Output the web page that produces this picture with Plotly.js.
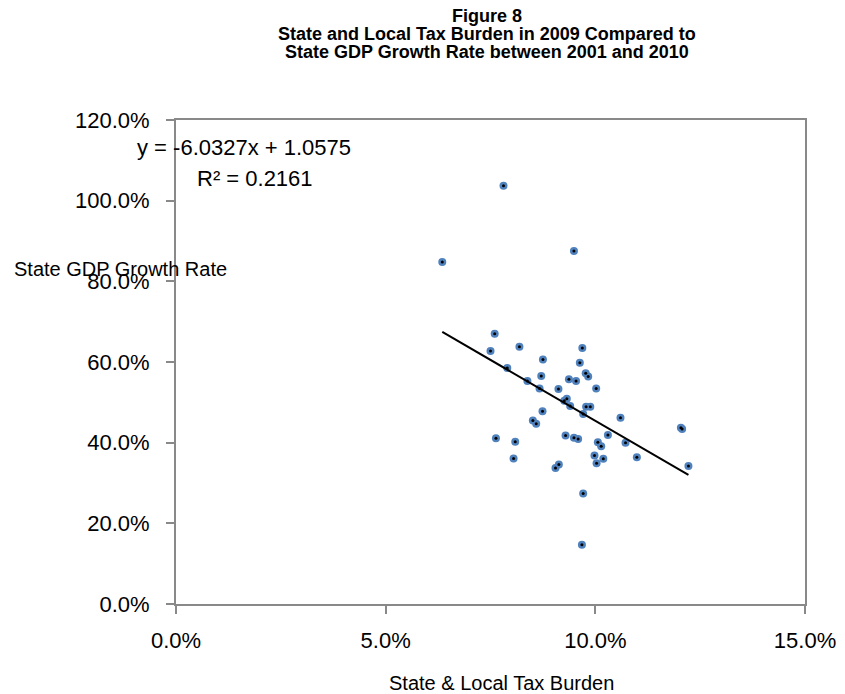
<!DOCTYPE html>
<html>
<head>
<meta charset="utf-8">
<script src="https://cdn.plot.ly/plotly-3.0.1.min.js"></script>
<style>html,body{margin:0;padding:0;background:#fff;}#chart{width:845px;height:694px;}</style>
</head>
<body>
<div id="chart"></div>
<script>
// State & local tax burden 2009 (fraction) vs state GDP growth 2001-2010 (fraction)
var taxBurden = [0.0635,0.0781,0.0949,0.0760,0.0750,0.0819,0.0875,0.0969,0.0963,0.0790,
                 0.0838,0.0871,0.0867,0.0937,0.0954,0.0912,0.0932,0.0926,0.0940,0.0874,
                 0.0851,0.0859,0.0763,0.0809,0.0929,0.0949,0.0959,0.0977,0.0983,0.1002,
                 0.0978,0.0988,0.0971,0.1060,0.1204,0.1207,0.1030,0.1006,0.1014,0.1072,
                 0.0998,0.1003,0.1019,0.1099,0.1222,0.0971,0.0968,0.0805,0.0905,0.0913];
var gdpGrowth = [0.848,1.037,0.875,0.670,0.627,0.638,0.606,0.635,0.598,0.585,
                 0.553,0.565,0.534,0.557,0.553,0.533,0.509,0.504,0.491,0.478,
                 0.455,0.447,0.411,0.402,0.418,0.412,0.409,0.572,0.564,0.534,
                 0.489,0.489,0.471,0.462,0.437,0.434,0.419,0.401,0.391,0.400,
                 0.368,0.349,0.360,0.364,0.342,0.274,0.147,0.361,0.337,0.346];
var trendSlope = -6.0327;
var trendIntercept = 1.0575;
var trendR2 = 0.2161;
var titleLines = ['Figure 8',
                  'State and Local Tax Burden in 2009 Compared to',
                  'State GDP Growth Rate between 2001 and 2010'];
var xTickVals = [0, 0.05, 0.10, 0.15];
var xTickText = ['0.0%', '5.0%', '10.0%', '15.0%'];
var yTickVals = [0, 0.2, 0.4, 0.6, 0.8, 1.0, 1.2];
var yTickText = ['0.0%', '20.0%', '40.0%', '60.0%', '80.0%', '100.0%', '120.0%'];

var xMin = Math.min.apply(null, taxBurden);
var xMax = Math.max.apply(null, taxBurden);
var trendX = [xMin, xMax];
var trendY = trendX.map(function(v){ return trendSlope * v + trendIntercept; });

var FONT = 'Liberation Sans, Arial, sans-serif';
var PLOT_T = 120, PLOT_H = 484;
function paperY(px){ return (PLOT_T + PLOT_H - px) / PLOT_H; }

var traces = [
  {x: taxBurden, y: gdpGrowth, type: 'scatter', mode: 'markers',
   marker: {color: '#4f81bd', size: 8, line: {width: 0}}, hoverinfo: 'skip'},
  {x: taxBurden, y: gdpGrowth, type: 'scatter', mode: 'markers',
   marker: {color: '#000000', size: 3, line: {width: 0}}, hoverinfo: 'skip'},
  {x: trendX, y: trendY, type: 'scatter', mode: 'lines',
   line: {color: '#000000', width: 2}, hoverinfo: 'skip'}
];

var titleY = [16, 34, 52];
var annotations = titleLines.map(function(t, i){
  return {text: '<b>' + t + '</b>', xref: 'paper', yref: 'paper',
          x: 0.495, y: paperY(titleY[i]), xanchor: 'center', yanchor: 'middle', showarrow: false,
          font: {family: FONT, size: 18, color: '#000000'}};
});
annotations = annotations.concat([
  {text: 'y = ' + trendSlope.toFixed(4) + 'x + ' + trendIntercept.toFixed(4), xref: 'paper', yref: 'paper',
   x: -0.0652, y: paperY(147), xanchor: 'left', yanchor: 'middle', showarrow: false,
   font: {family: FONT, size: 22, color: '#000000'}},
  {text: 'R² = ' + trendR2.toFixed(4), xref: 'paper', yref: 'paper',
   x: 0.0302, y: paperY(178), xanchor: 'left', yanchor: 'middle', showarrow: false,
   font: {family: FONT, size: 22, color: '#000000'}},
  {text: 'State GDP Growth Rate', xref: 'paper', yref: 'paper',
   x: -0.2607, y: paperY(269), xanchor: 'left', yanchor: 'middle', showarrow: false,
   font: {family: FONT, size: 20, color: '#000000'}},
  {text: 'State & Local Tax Burden', xref: 'paper', yref: 'paper',
   x: 0.518, y: paperY(683), xanchor: 'center', yanchor: 'middle', showarrow: false,
   font: {family: FONT, size: 20, color: '#000000'}}
]);

var layout = {
  width: 845, height: 694,
  margin: {l: 176, r: 40, t: 120, b: 90},
  paper_bgcolor: '#ffffff', plot_bgcolor: '#ffffff',
  showlegend: false,
  font: {family: FONT, color: '#000000'},
  xaxis: {
    range: [0, 0.15], tickvals: xTickVals, ticktext: xTickText,
    showgrid: false, zeroline: false, showline: true, mirror: true,
    linecolor: '#898989', linewidth: 2, ticks: 'outside', ticklen: 8, tickwidth: 2, tickcolor: '#898989',
    tickfont: {family: FONT, size: 22, color: '#000000'}, ticklabelstandoff: 8
  },
  yaxis: {
    range: [0, 1.2], tickvals: yTickVals, ticktext: yTickText,
    showgrid: false, zeroline: false, showline: true, mirror: true,
    linecolor: '#898989', linewidth: 2, ticks: 'outside', ticklen: 8, tickwidth: 2, tickcolor: '#898989',
    tickfont: {family: FONT, size: 22, color: '#000000'}, ticklabelstandoff: 12
  },
  annotations: annotations
};

Plotly.newPlot('chart', traces, layout, {displayModeBar: false, staticPlot: true});
</script>
</body>
</html>
